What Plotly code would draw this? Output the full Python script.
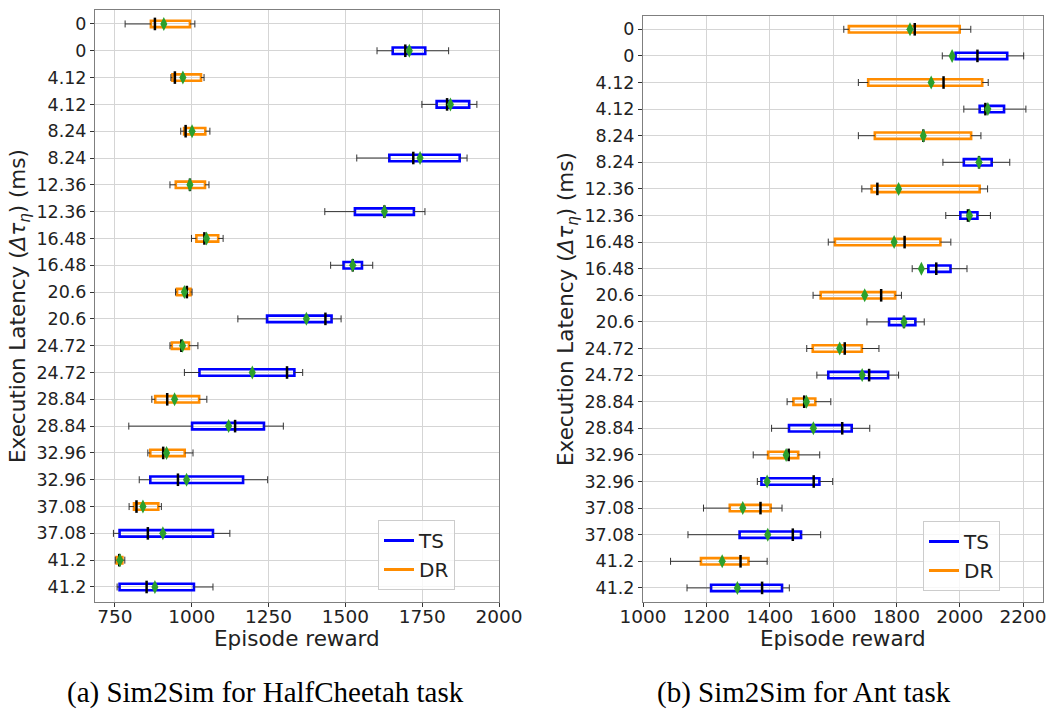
import plotly.graph_objects as go

# Execution latencies (ms), one DR row and one TS row per latency
latency = ["0", "4.12", "8.24", "12.36", "16.48", "20.6", "24.72", "28.84", "32.96", "37.08", "41.2"]

# HalfCheetah: whisker low, Q1, median, mean, Q3, whisker high
cheetah_dr_lo = [783, 932, 964, 929, 999, 947, 929, 870, 857, 796, 751]
cheetah_dr_q1 = [867, 937, 975, 948, 1015, 952, 935, 881, 865, 812, 755]
cheetah_dr_med = [880, 945, 980, 994, 1041, 984, 966, 920, 907, 820, 764]
cheetah_dr_mean = [909, 971, 1001, 994, 1048, 976, 970, 944, 918, 841, 766]
cheetah_dr_q3 = [994, 1030, 1044, 1043, 1086, 996, 991, 1024, 977, 891, 774]
cheetah_dr_hi = [1010, 1040, 1059, 1056, 1102, 1001, 1020, 1049, 1004, 901, 782]

cheetah_ts_lo = [1603, 1749, 1537, 1433, 1452, 1150, 976, 795, 829, 745, 757]
cheetah_ts_q1 = [1654, 1797, 1643, 1531, 1494, 1245, 1025, 1001, 865, 765, 765]
cheetah_ts_med = [1695, 1831, 1721, 1627, 1524, 1435, 1310, 1141, 955, 857, 853]
cheetah_ts_mean = [1708, 1842, 1743, 1627, 1524, 1373, 1197, 1120, 983, 906, 880]
cheetah_ts_q3 = [1760, 1903, 1872, 1723, 1554, 1455, 1334, 1235, 1167, 1069, 1007]
cheetah_ts_hi = [1836, 1928, 1896, 1759, 1589, 1486, 1361, 1298, 1247, 1124, 1069]

# Ant
ant_dr_lo = [1634, 1680, 1680, 1691, 1585, 1537, 1517, 1455, 1348, 1191, 1087]
ant_dr_q1 = [1650, 1711, 1732, 1722, 1606, 1561, 1536, 1475, 1395, 1274, 1183]
ant_dr_med = [1858, 1949, 1885, 1740, 1826, 1752, 1637, 1509, 1460, 1371, 1308]
ant_dr_mean = [1843, 1910, 1885, 1807, 1793, 1700, 1621, 1516, 1452, 1315, 1250]
ant_dr_q3 = [2000, 2071, 2036, 2063, 1939, 1796, 1691, 1544, 1490, 1403, 1333]
ant_dr_hi = [2035, 2090, 2067, 2088, 1972, 1816, 1745, 1593, 1558, 1439, 1392]

ant_ts_lo = [1945, 2013, 1947, 1956, 1850, 1707, 1549, 1406, 1361, 1142, 1139]
ant_ts_q1 = [1987, 2063, 2013, 2002, 1901, 1777, 1585, 1461, 1374, 1305, 1215]
ant_ts_med = [2056, 2081, 2061, 2026, 1926, 1824, 1714, 1629, 1539, 1473, 1376]
ant_ts_mean = [1976, 2089, 2061, 2031, 1879, 1824, 1692, 1538, 1392, 1394, 1298]
ant_ts_q3 = [2150, 2140, 2101, 2056, 1971, 1860, 1774, 1659, 1557, 1499, 1439]
ant_ts_hi = [2202, 2209, 2158, 2097, 2023, 1888, 1807, 1716, 1599, 1561, 1462]

BLUE = "#0000ff"
ORANGE = "#ff8c00"
GREEN = "#2ca02c"
WHISKER = "#333333"
FONT = "DejaVu Sans"

fig = go.Figure()


def add_boxes(rows, lo, q1, med, mean, q3, hi, color, xa, ya):
    # box body
    fig.add_trace(go.Bar(
        orientation="h", y=rows, base=q1, x=[b - a for a, b in zip(q1, q3)],
        width=0.24, marker=dict(color="rgba(0,0,0,0)", line=dict(color=color, width=2.6)),
        showlegend=False, hoverinfo="skip", xaxis=xa, yaxis=ya))
    # whiskers
    wx, wy = [], []
    for r, a, b, c, d in zip(rows, lo, q1, q3, hi):
        wx += [a, b, None, c, d, None]
        wy += [r, r, None, r, r, None]
    fig.add_trace(go.Scatter(x=wx, y=wy, mode="lines", line=dict(color=WHISKER, width=1),
                             showlegend=False, hoverinfo="skip", xaxis=xa, yaxis=ya))
    # whisker caps
    fig.add_trace(go.Scatter(
        x=lo + hi, y=rows + rows, mode="markers",
        marker=dict(symbol="line-ns", size=5, line=dict(color=WHISKER, width=1)),
        showlegend=False, hoverinfo="skip", xaxis=xa, yaxis=ya))
    # median
    fig.add_trace(go.Scatter(
        x=med, y=rows, mode="markers",
        marker=dict(symbol="line-ns", size=9, line=dict(color="black", width=2.5)),
        showlegend=False, hoverinfo="skip", xaxis=xa, yaxis=ya))
    # mean
    fig.add_trace(go.Scatter(
        x=mean, y=rows, mode="markers",
        marker=dict(symbol="diamond-tall", size=10, color=GREEN, line=dict(width=0)),
        showlegend=False, hoverinfo="skip", xaxis=xa, yaxis=ya))


n = len(latency)
dr_rows = [2 * i for i in range(n)]
ts_rows = [2 * i + 1 for i in range(n)]

add_boxes(dr_rows, cheetah_dr_lo, cheetah_dr_q1, cheetah_dr_med, cheetah_dr_mean,
          cheetah_dr_q3, cheetah_dr_hi, ORANGE, "x", "y")
add_boxes(ts_rows, cheetah_ts_lo, cheetah_ts_q1, cheetah_ts_med, cheetah_ts_mean,
          cheetah_ts_q3, cheetah_ts_hi, BLUE, "x", "y")
add_boxes(dr_rows, ant_dr_lo, ant_dr_q1, ant_dr_med, ant_dr_mean,
          ant_dr_q3, ant_dr_hi, ORANGE, "x2", "y2")
add_boxes(ts_rows, ant_ts_lo, ant_ts_q1, ant_ts_med, ant_ts_mean,
          ant_ts_q3, ant_ts_hi, BLUE, "x2", "y2")

# legend entries
for name, color in [("TS", BLUE), ("DR", ORANGE)]:
    fig.add_trace(go.Scatter(x=[None], y=[None], mode="lines", name=name,
                             line=dict(color=color, width=3), legend="legend",
                             xaxis="x", yaxis="y"))
    fig.add_trace(go.Scatter(x=[None], y=[None], mode="lines", name=name,
                             line=dict(color=color, width=3), legend="legend2",
                             xaxis="x2", yaxis="y2"))

tick_rows = []
tick_text = []
for i, lab in enumerate(latency):
    tick_rows += [2 * i, 2 * i + 1]
    tick_text += [lab, lab]

axis_style = dict(showline=True, mirror=True, linecolor="#7f7f7f", linewidth=1,
                  ticks="outside", ticklen=4, tickcolor="#333", gridcolor="#d5d5d5",
                  gridwidth=1, zeroline=False, automargin=False)
xfont = dict(family=FONT, size=18.5, color="#222")
yfont = dict(family=FONT, size=17.5, color="#222")

W, H = 1049, 713
fig.update_layout(
    width=W, height=H, margin=dict(l=0, r=0, t=0, b=0, autoexpand=False),
    paper_bgcolor="white", plot_bgcolor="white", barmode="overlay",
    font=dict(family=FONT, color="#222"),
    xaxis=dict(domain=[95 / W, 499 / W], range=[685, 2000], tickfont=xfont,
               ticklabelstandoff=-6,
               tickvals=[750, 1000, 1250, 1500, 1750, 2000], anchor="y", **axis_style),
    yaxis=dict(domain=[1 - 602 / H, 1 - 10 / H], range=[21.56, -0.52], tickfont=yfont,
               tickvals=tick_rows, ticktext=tick_text, anchor="x", **axis_style),
    xaxis2=dict(domain=[643 / W, 1043 / W], range=[1000, 2263], tickfont=xfont,
                ticklabelstandoff=-6,
                tickvals=[1000, 1200, 1400, 1600, 1800, 2000, 2200], anchor="y2", **axis_style),
    yaxis2=dict(domain=[1 - 602 / H, 1 - 16 / H], range=[21.53, -0.5], tickfont=yfont,
                tickvals=tick_rows, ticktext=tick_text, anchor="x2", **axis_style),
    legend=dict(x=378 / W, y=1 - 520 / H, xanchor="left", yanchor="top",
                bgcolor="rgba(255,255,255,0.8)", bordercolor="#cccccc", borderwidth=1,
                font=dict(family=FONT, size=20, color="#222")),
    legend2=dict(x=923 / W, y=1 - 521 / H, xanchor="left", yanchor="top",
                 bgcolor="rgba(255,255,255,0.8)", bordercolor="#cccccc", borderwidth=1,
                 font=dict(family=FONT, size=20, color="#222")),
)

ytitle = "Execution Latency (<i>Δτ</i><sub><i>η</i></sub>) (ms)"


def label(text, x, y, size, family=FONT, angle=0, color="#222"):
    return dict(text=text, x=x / W, y=1 - y / H, xref="paper", yref="paper",
                xanchor="center", yanchor="middle", textangle=angle, showarrow=False,
                font=dict(family=family, size=size, color=color))


annotations = [
    label("Episode reward", 297, 638, 21.5),
    label("Episode reward", 843, 638, 21.5),
    label(ytitle, 19, 306, 21.5, angle=-90),
    label(ytitle, 567, 309, 21.5, angle=-90),
    label("(a) Sim2Sim for HalfCheetah task", 265, 692, 29, "Liberation Serif", color="black"),
    label("(b) Sim2Sim for Ant task", 804, 692, 29, "Liberation Serif", color="black"),
]
fig.update_layout(annotations=annotations)

fig.write_html("out.html")
